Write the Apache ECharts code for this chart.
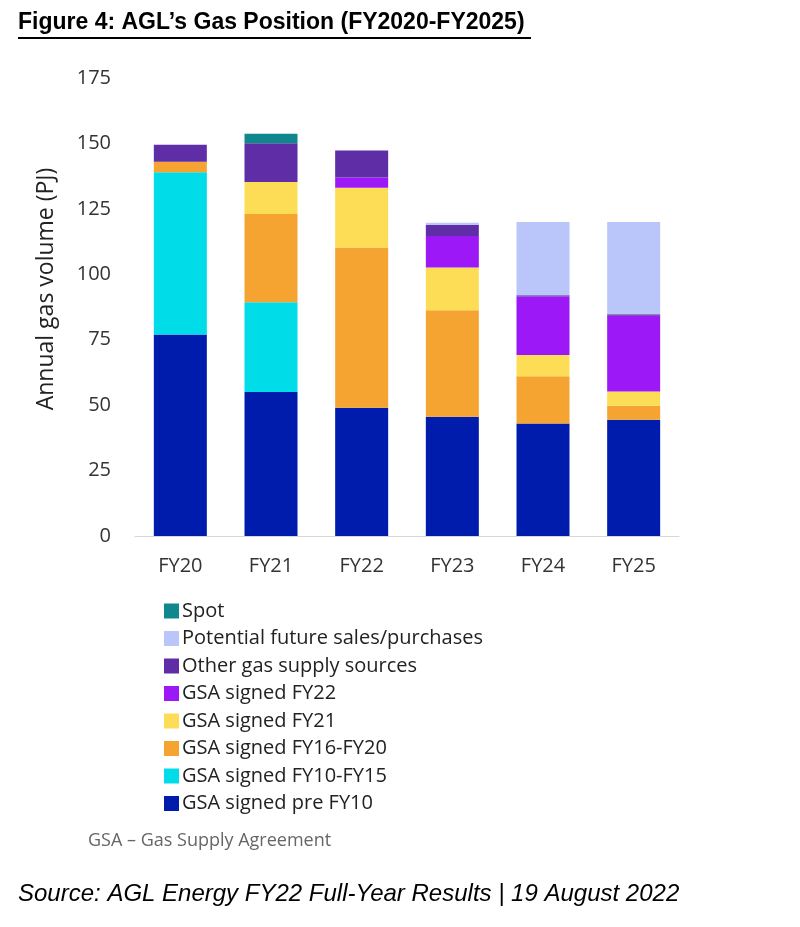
<!DOCTYPE html>
<html><head><meta charset="utf-8">
<script src="https://cdn.jsdelivr.net/npm/echarts@6/dist/echarts.min.js"></script>
<style>html,body{margin:0;padding:0;background:#fff}#c{width:800px;height:927px}</style>
</head><body><div id="c"></div>
<script>
const categories = ['FY20','FY21','FY22','FY23','FY24','FY25'];
const preFY10     = [77, 55, 49, 45.6, 43, 44.4];
const fy10to15    = [62, 34.3, 0, 0, 0, 0];
const fy16to20    = [4, 33.7, 61.2, 40.7, 18, 5.4];
const fy21        = [0, 12.3, 22.9, 16.3, 8.2, 5.4];
const fy22        = [0, 0, 3.9, 12, 22.3, 29];
const otherGas    = [6.5, 14.8, 10.3, 4.3, 0.5, 0.5];
const potential   = [0, 0, 0, 0.8, 28, 35.3];
const spot        = [0, 3.6, 0, 0, 0, 0];
const yTicks = [0, 25, 50, 75, 100, 125, 150, 175];

const seriesDefs = [
  ['GSA signed pre FY10', preFY10, '#001CAD'],
  ['GSA signed FY10-FY15', fy10to15, '#00DDE9'],
  ['GSA signed FY16-FY20', fy16to20, '#F5A432'],
  ['GSA signed FY21', fy21, '#FDDD55'],
  ['GSA signed FY22', fy22, '#9D18F7'],
  ['Other gas supply sources', otherGas, '#5F2DA6'],
  ['Potential future sales/purchases', potential, '#BAC6F9'],
  ['Spot', spot, '#10878D']
];

const chart = echarts.init(document.getElementById('c'));
chart.setOption({
  animation: false,
  textStyle: {fontFamily: 'Open Sans'},
  grid: {left: 135, top: 78, width: 544, height: 458, containLabel: false},
  xAxis: {
    type: 'category', data: categories,
    axisLine: {lineStyle: {color: '#d8d8d8', width: 1}},
    axisTick: {show: false},
    axisLabel: {color: '#333', fontSize: 20, margin: 20}
  },
  yAxis: {
    type: 'value', min: yTicks[0], max: yTicks[yTicks.length-1], interval: 25,
    axisLine: {show: false}, axisTick: {show: false},
    splitLine: {show: false},
    axisLabel: {color: '#333', fontSize: 20, margin: 24}
  },
  legend: {
    orient: 'vertical', left: 159, top: 596,
    itemWidth: 15, itemHeight: 15, itemGap: 7.5,
    icon: 'rect',
    textStyle: {fontSize: 20, color: '#222', padding: [0,0,0,-2]},
    data: seriesDefs.map(d => d[0]).reverse()
  },
  series: seriesDefs.map(d => ({
    name: d[0], type: 'bar', stack: 'total', data: d[1], barWidth: 53,
    itemStyle: {color: d[2]}
  })),
  graphic: [
    {type: 'text', x: 46, y: 289, rotation: Math.PI/2,
     style: {text: 'Annual gas volume (PJ)', font: '23px "Open Sans"', fill: '#222', textAlign: 'center', textVerticalAlign: 'middle'}},
    {type: 'text', left: 18, top: 11, style: {text: 'Figure 4: AGL\u2019s Gas Position (FY2020-FY2025)', font: 'bold 23px "Liberation Sans"', fill: '#000'}},
    {type: 'rect', shape: {x: 18, y: 37, width: 513, height: 2}, style: {fill: '#000'}},
    {type: 'text', left: 88, top: 832, style: {text: 'GSA \u2013 Gas Supply Agreement', font: '18px "Open Sans"', fill: '#666'}},
    {type: 'text', left: 18, top: 882, style: {text: 'Source: AGL Energy FY22 Full-Year Results | 19 August 2022', font: 'italic 24px "Liberation Sans"', fill: '#000'}}
  ]
});
</script></body></html>
